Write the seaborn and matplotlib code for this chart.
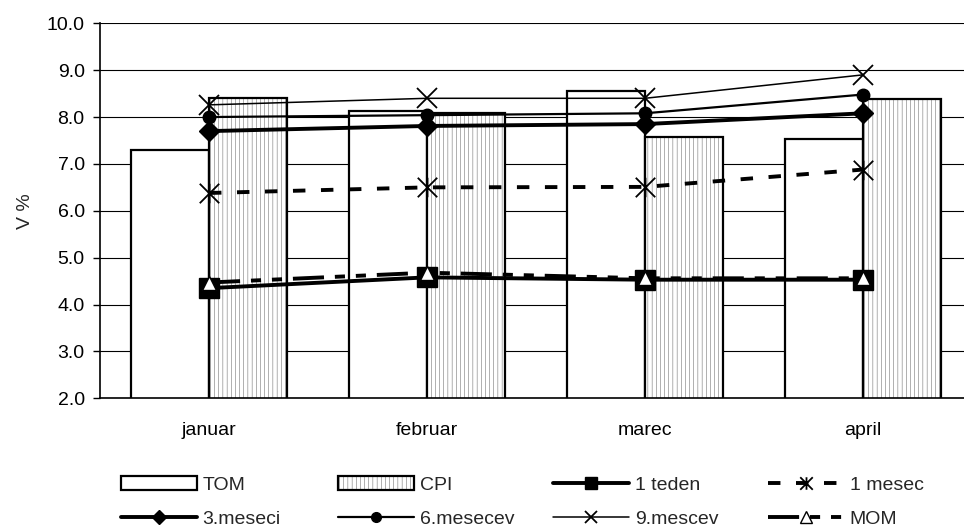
import numpy as np
import pandas as pd
import matplotlib
matplotlib.use("Agg")
import matplotlib.pyplot as plt
from matplotlib.path import Path
from matplotlib.patches import Patch
from matplotlib.lines import Line2D
import seaborn as sns

months = ["januar", "februar", "marec", "april"]
tom = [7.3, 8.12, 8.56, 7.54]
cpi = [8.4, 8.08, 7.58, 8.38]
teden_1 = [4.35, 4.58, 4.53, 4.53]
mesec_1 = [6.38, 6.5, 6.51, 6.88]
meseci_3 = [7.7, 7.81, 7.85, 8.08]
mesecev_6 = [8.0, 8.04, 8.08, 8.48]
mescev_9 = [8.26, 8.4, 8.4, 8.9]
mom = [4.47, 4.68, 4.56, 4.56]
yticks = [2.0, 3.0, 4.0, 5.0, 6.0, 7.0, 8.0, 9.0, 10.0]

sns.set_theme(style="white")
plt.rcParams["font.family"] = ["Liberation Sans", "DejaVu Sans"]
plt.rcParams["hatch.linewidth"] = 0.22

W, H = 964, 528
fig = plt.figure(figsize=(W / 100, H / 100), dpi=100)
ax = fig.add_axes([100 / W, 129.7 / H, 872 / W, 375 / H])

bars = pd.DataFrame({
    "month": months * 2,
    "value": tom + cpi,
    "series": ["TOM"] * 4 + ["CPI"] * 4,
})
sns.barplot(data=bars, x="month", y="value", hue="series",
            palette={"TOM": "white", "CPI": "white"},
            edgecolor="black", linewidth=1.6, width=0.717,
            legend=False, ax=ax, zorder=2)
for p in ax.containers[1]:
    p.set_hatch("||||")

pos = np.arange(len(months))

# star marker: an X crossed by a vertical stroke
star = Path([(-1, -1), (1, 1), (-1, 1), (1, -1), (0, -1), (0, 1)],
            [Path.MOVETO, Path.LINETO, Path.MOVETO, Path.LINETO,
             Path.MOVETO, Path.LINETO])

series = [
    ("9.mescev", mescev_9, dict(lw=1.1, ls="-", marker="x", ms=14, mew=1.3, mfc="black"), 8),
    ("6.mesecev", mesecev_6, dict(lw=1.6, ls="-", marker="o", ms=9, mew=1.0, mfc="black"), 7),
    ("3.meseci", meseci_3, dict(lw=2.8, ls="-", marker="D", ms=10, mew=1.0, mfc="black"), 7),
    ("1 mesec", mesec_1, dict(lw=2.8, ls=(0, (3.2, 4.0)), marker=star, ms=14,
                               mew=1.3, mfc="none"), 9),
    ("1 teden", teden_1, dict(lw=2.8, ls="-", marker="s", ms=14, mew=1.0, mfc="black"), 8),
    ("MOM", mom, dict(lw=2.8, ls=(0, (8, 2.8, 2.6, 2.8, 2.6, 2.8)), marker="^",
                       ms=10, mew=1.0, mfc="white"), 8),
]
handles = {}
for name, vals, st, legend_ms in series:
    sns.lineplot(x=pos, y=vals, ax=ax, zorder=4, legend=False, color="black",
                 linewidth=st["lw"], linestyle=st["ls"], marker=st["marker"],
                 markersize=st["ms"], markeredgewidth=st["mew"],
                 markerfacecolor=st["mfc"], markeredgecolor="black")
    handles[name] = Line2D([], [], color="black", linewidth=st["lw"],
                           linestyle=st["ls"], marker=st["marker"],
                           markersize=legend_ms, markeredgewidth=st["mew"],
                           markerfacecolor=st["mfc"], markeredgecolor="black")

handles["TOM"] = Patch(facecolor="white", edgecolor="black", linewidth=1.6)
handles["CPI"] = Patch(facecolor="white", edgecolor="black", linewidth=1.6, hatch="||||")

ax.set_xlim(-0.5, 3.5)
ax.set_ylim(2.0, 10.0)
ax.set_yticks(yticks)
ax.set_yticklabels([f"{v:.1f}" for v in yticks])
ax.yaxis.grid(True, color="black", lw=0.8, zorder=0)
ax.set_axisbelow(True)
ax.set_xlabel("")
ax.set_ylabel("V %", fontsize=14, labelpad=9)

ax.set_xticks(pos)
ax.set_xticklabels(months)
ax.set_xticks(np.arange(-0.5, 4.0, 1.0), minor=True)
ax.tick_params(axis="x", which="major", length=0, pad=17, labelsize=14, colors="black")
ax.tick_params(axis="x", which="minor", length=5, width=1, direction="out", colors="black")
ax.tick_params(axis="y", length=5, width=1, direction="out", pad=6, labelsize=14, colors="black")
ax.tick_params(axis="both", bottom=True, left=True)

for s in ["top", "right"]:
    ax.spines[s].set_visible(False)
for s in ["left", "bottom"]:
    ax.spines[s].set_color("black")
    ax.spines[s].set_linewidth(1.2)

# legend laid out as four two-row columns beneath the months
columns = [("TOM", "3.meseci"), ("CPI", "6.mesecev"),
           ("1 teden", "9.mescev"), ("1 mesec", "MOM")]
col_x = [121, 338, 553, 768]
for (top, bottom), x0 in zip(columns, col_x):
    fig.legend([handles[top], handles[bottom]], [top, bottom],
               loc="upper left", bbox_to_anchor=(x0 / W, 1 - 476 / H),
               frameon=False, fontsize=14, handlelength=3.9,
               handleheight=0.75, handletextpad=0.3, labelspacing=0.85,
               borderpad=0, borderaxespad=0, numpoints=1)

fig.savefig("out.png", dpi=100)
